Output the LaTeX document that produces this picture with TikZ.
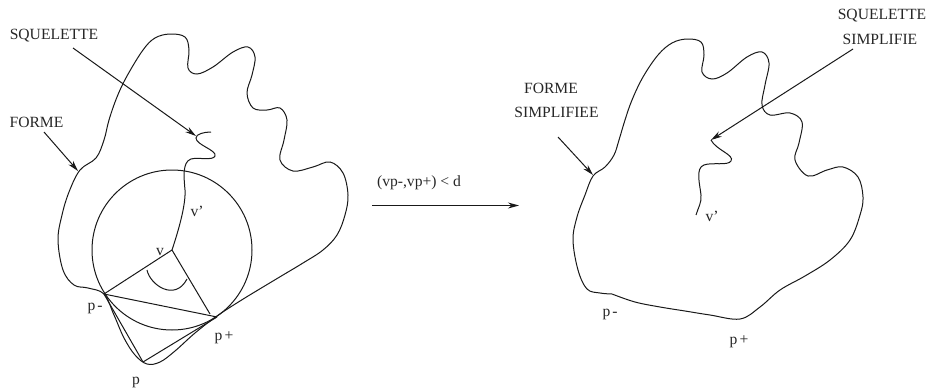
\documentclass[tikz,border=0pt]{standalone}
\usepackage{fontspec}
\setmainfont{Liberation Serif}
\usetikzlibrary{arrows.meta}
\tikzset{
  lbl/.style={inner sep=0pt,anchor=base,font=\fontsize{15.6}{18}\selectfont,text=black!85},
  curve/.style={line width=1pt,black!90},
  seg/.style={line width=1pt,black!90},
  arr/.style={line width=1pt,black!90,-{Stealth[length=11pt,width=6pt]}}
}
\begin{document}
\begin{tikzpicture}[x=1pt,y=-1pt]
\useasboundingbox (0,0) rectangle (928,388);
% left figure
\coordinate (v) at (172,250);
\coordinate (pm) at (104,294);
\coordinate (pp) at (217,317);
\coordinate (pb) at (143,362);
\coordinate (vf) at (210,314);
\coordinate (sqa) at (73,48);
\coordinate (sqb) at (196,136);
\coordinate (foa) at (44,132);
\coordinate (fob) at (78,171);
\draw[curve] plot[smooth cycle,tension=0.6] coordinates {
 (104,294)(88,288)(74,285)(63,270)(58,240)(62,215)(69,192)(80,170)(96,158)(104,140)(109,120)
 (117,97)(127,76)(143,50)(155,38)(170,34)(185,37)(189,50)(188,68)(197,74)(213,67)(233,52)(248,47)(255,57)(252,75)
 (247,93)(253,108)(267,110)(280,108)(287,120)(284,140)(280,160)(293,171)(313,167)(330,162)(343,173)
 (348,195)(345,215)(337,235)(323,250)(303,263)(283,275)(263,287)(240,301)(217,316)(195,333)(175,351)(160,362)(147,364)(135,355)(124,338)(114,315)};
\draw[curve] (211,132) .. controls (204,132) and (196,134) .. (196,138) .. controls (196,145) and (217,150) .. (215,156) .. controls (213,161) and (198,157) .. (191,159) .. controls (182,162) and (184,178) .. (185,190) .. controls (186,205) and (178,232) .. (v);
\draw[seg] (172,250) circle[radius=80];
\draw[seg] (v) -- (pm);
\draw[seg] (v) -- (vf);
\draw[seg] (pm) -- (pp);
\draw[seg] (pb) -- (pp);
\draw[seg] (pb) -- (pm);
\draw[seg] (147,270) .. controls (150,285) and (175,302) .. (187,279);
\draw[arr] (sqa) -- (sqb);
\draw[arr] (foa) -- (fob);
\node[lbl] (t1) at (54,39) {SQUELETTE};
\node[lbl] (t2) at (36.5,127) {FORME};
\node[lbl] (t3) at (197,216) {v'};
\node[lbl] (t4) at (160,255) {v};
\node[lbl] (t5) at (95,310.5) {p\kern2pt-};
\node[lbl] (t6) at (224,340) {p\kern2pt+};
\node[lbl] (t7) at (136,384) {p};
% main arrow
\coordinate (ma) at (372,205.5);
\coordinate (mb) at (519,205.5);
\draw[arr] (ma) -- (mb);
\node[lbl] (t8) at (419,186) {(vp-,vp+) < d};
% right figure
\coordinate (sra) at (853,49);
\coordinate (srb) at (711,140);
\coordinate (fra) at (558,137);
\coordinate (frb) at (593,175);
\draw[curve] plot[smooth,tension=0.6] coordinates {
 (612,294)(600,293)(587,289)(578,270)(573,240)(577,217)(585,195)(593,176)(605,167)(614,155)(619,140)(625,120)(632,100)
 (643,77)(658,55)(672,43)(687,39)(701,42)(704,55)(702,72)(712,79)(727,73)(747,57)(762,52)(769,63)(765,85)
 (762,105)(770,115)(790,113)(802,122)(799,143)(795,160)(808,176)(827,170)(843,167)(858,177)
 (863,197)(860,215)(850,240)(830,260)(805,276)(780,290)(760,307)(740,319)(710,315)(685,311)(660,307)(635,302)(612,294)};
\draw[curve] (srb) .. controls (716,150) and (735,155) .. (731,161) .. controls (728,166) and (712,162) .. (704,165) .. controls (695,168) and (700,185) .. (701,195) .. controls (702,202) and (698,208) .. (696,215);
\draw[arr] (sra) -- (srb);
\draw[arr] (fra) -- (frb);
\node[lbl] (t9) at (882,19) {SQUELETTE};
\node[lbl] (t10) at (880,44) {SIMPLIFIE};
\node[lbl] (t11) at (551,93) {FORME};
\node[lbl] (t12) at (556.5,117) {SIMPLIFIEE};
\node[lbl] (t13) at (712,221) {v'};
\node[lbl] (t14) at (610,316) {p\kern2pt-};
\node[lbl] (t15) at (739,344) {p\kern2pt+};
\end{tikzpicture}
\end{document}
